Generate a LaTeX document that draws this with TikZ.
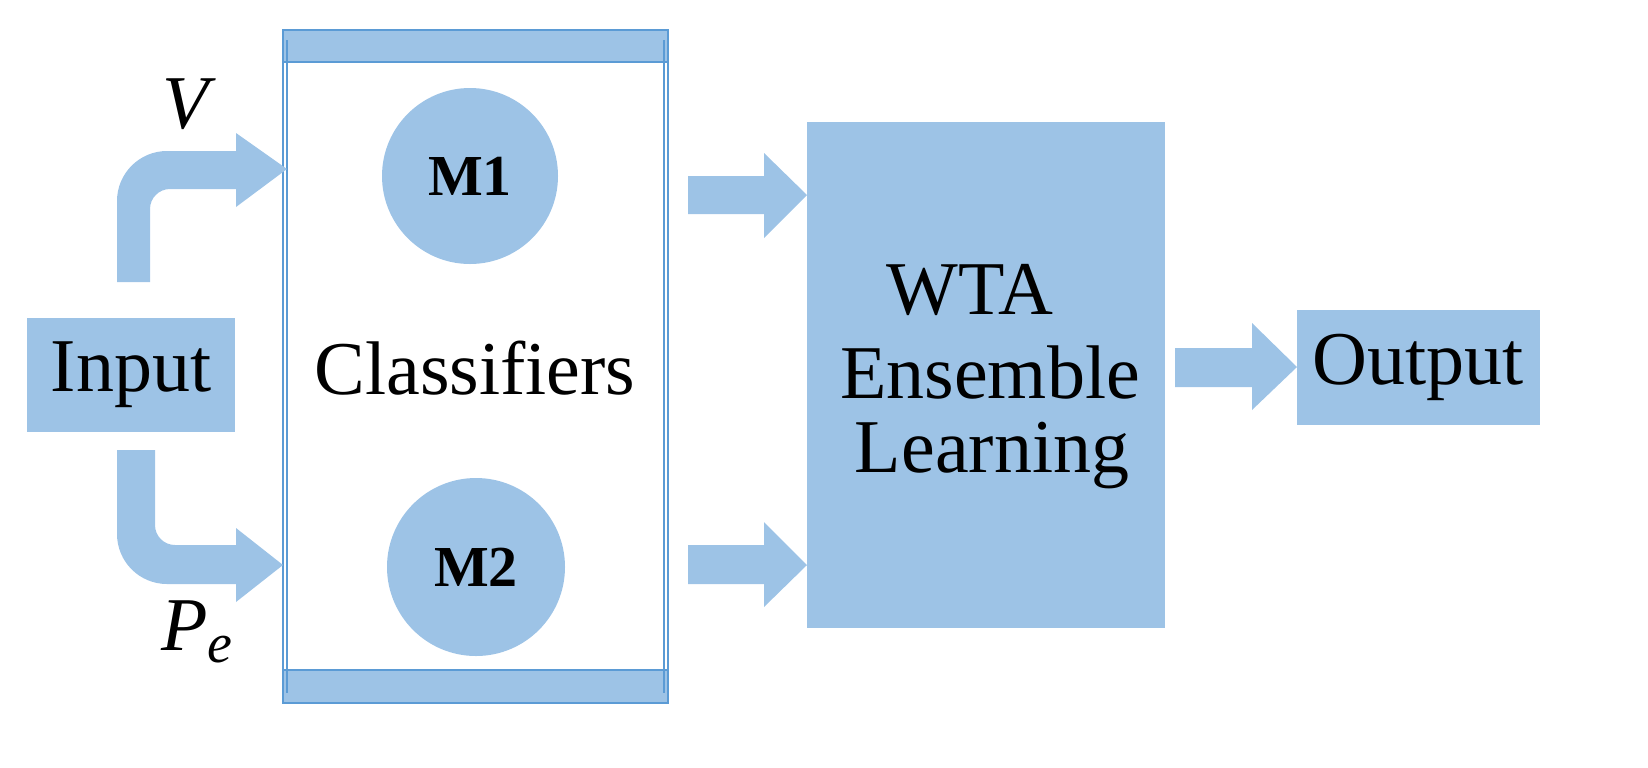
\documentclass[tikz,border=0pt]{standalone}
\usepackage{fontspec}
\setmainfont{Liberation Serif}
\definecolor{lb}{HTML}{9DC3E6}
\definecolor{db}{HTML}{5B9BD5}
\begin{document}
\begin{tikzpicture}[x=0.5pt,y=-0.5pt,
  box/.style={fill=lb,draw=none,inner sep=0,font=\fontsize{38}{40}\selectfont},
  lbl/.style={font=\fontsize{38}{40}\selectfont}]
\useasboundingbox (0,0) rectangle (1648,767);
% classifiers box
\node[draw=db,line width=0.8pt,minimum width=192.5pt,minimum height=336.5pt,inner sep=0] (cls) at (475.5,366.5) {};
\fill[lb,draw=db,line width=0.6pt] (283,30) rectangle (668,62);
\fill[lb,draw=db,line width=0.6pt] (283,670) rectangle (668,703);
\draw[db,line width=0.6pt] (287,40) -- (287,693) (664,40) -- (664,693);
\node[lbl] (clst) at (475,368) {Classifiers};
\node[circle,fill=lb,minimum size=88pt,inner sep=0,font=\bfseries\fontsize{29}{30}\selectfont] (m1) at (470,176) {M1};
\node[circle,fill=lb,minimum size=89pt,inner sep=0,font=\bfseries\fontsize{29}{30}\selectfont] (m2) at (476,567) {M2};
% input
\node[box,minimum width=104pt,minimum height=57pt] (in) at (131,375) {Input};
% bent arrows
\fill[lb] (117,282) [rounded corners=25pt]-- (117,151) [sharp corners]-- (236,151) -- (236,133) -- (287,169) -- (236,207) -- (236,189) [rounded corners=10pt]-- (150,189) [sharp corners]-- (150,282) -- cycle;
\fill[lb] (117,450) [rounded corners=25pt]-- (117,584) [sharp corners]-- (236,584) -- (236,602) -- (283,565) -- (236,528) -- (236,545) [rounded corners=10pt]-- (155,545) [sharp corners]-- (155,450) -- cycle;
\node[font=\itshape\fontsize{38}{40}\selectfont] (v) at (186,104) {V};
\node[font=\itshape\fontsize{38}{40}\selectfont] (pe) at (197,632) {P\raisebox{-0.35ex}{\fontsize{28}{30}\selectfont e}};
% wta
\node[box,minimum width=179pt,minimum height=253pt] (wta) at (986,375) {};
\node[lbl] (t1) at (970,290) {WTA};
\node[lbl] (t2) at (990,372) {Ensemble};
\node[lbl] (t3) at (992,456) {Learning};
% straight arrows
\fill[lb] (688,176) -- (764,176) -- (764,153) -- (807,195) -- (764,238) -- (764,214) -- (688,214) -- cycle;
\fill[lb] (688,545) -- (764,545) -- (764,522) -- (807,565) -- (764,607) -- (764,584) -- (688,584) -- cycle;
\fill[lb] (1175,348) -- (1252,348) -- (1252,323) -- (1297,367) -- (1252,410) -- (1252,387) -- (1175,387) -- cycle;
% output
\node[box,minimum width=121.5pt,minimum height=57.5pt] (out) at (1418.5,367.5) {Output};
\end{tikzpicture}
\end{document}
